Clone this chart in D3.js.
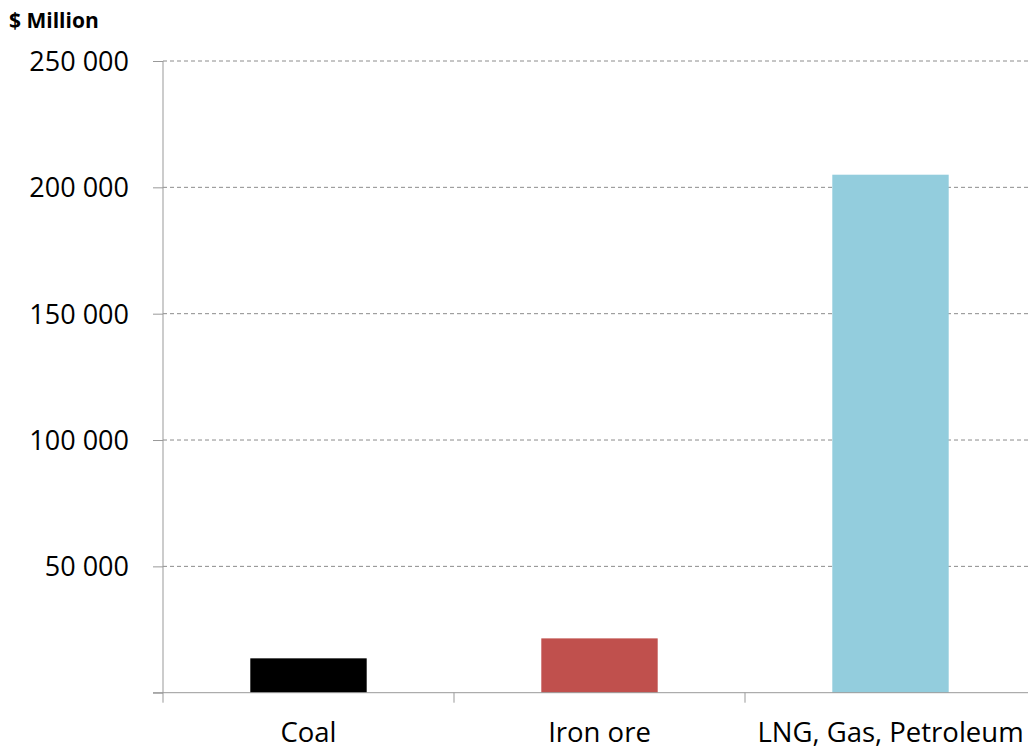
<!DOCTYPE html>
<html>
<head>
<meta charset="utf-8">
<script src="https://cdn.jsdelivr.net/npm/d3@7"></script>
<style>
  html, body { margin: 0; padding: 0; background: #fff; }
  svg { display: block; }
  text { font-family: "Open Sans", "Noto Sans", sans-serif; fill: #000; }
</style>
</head>
<body>
<svg id="chart" width="1028" height="749"></svg>
<script>
// Export values by commodity, $ million
const categories = ["Coal", "Iron ore", "LNG, Gas, Petroleum"];
const values = [13600, 21500, 205000];
const barColors = ["#000000", "#c0504d", "#93cddd"];
const yTicks = [0, 50000, 100000, 150000, 200000, 250000];
const unitLabel = "$ Million";

const svg = d3.select("#chart");
const margin = { left: 163, top: 61, right: -8, bottom: 56 };
const W = 1028, H = 749;
const x0 = margin.left, x1 = W - margin.right;
const yBase = 692.7, yTop = 61;

const x = d3.scaleBand().domain(categories).range([x0, x1]).paddingInner(0.6).paddingOuter(0.3);
const y = d3.scaleLinear().domain([0, 250000]).range([yBase, yTop]);

const fmt = v => d3.format(",")(v).replace(/,/g, " ");

// dashed horizontal gridlines
svg.append("g")
  .selectAll("line")
  .data(yTicks.filter(t => t > 0))
  .join("line")
  .attr("x1", x0).attr("x2", x1)
  .attr("y1", d => y(d)).attr("y2", d => y(d))
  .attr("stroke", "#8c8c8c")
  .attr("stroke-width", 1)
  .attr("stroke-dasharray", "4,3");

// bars
svg.append("g")
  .selectAll("rect")
  .data(categories)
  .join("rect")
  .attr("x", d => x(d))
  .attr("width", x.bandwidth())
  .attr("y", (d, i) => y(values[i]))
  .attr("height", (d, i) => y(0) - y(values[i]))
  .attr("fill", (d, i) => barColors[i]);

// y axis
const yAxis = d3.axisLeft(y).tickValues(yTicks).tickSize(10).tickPadding(24)
  .tickFormat(d => d === 0 ? "" : fmt(d));
const gy = svg.append("g").attr("transform", `translate(${x0},0)`).call(yAxis);
gy.select(".domain").remove();
gy.selectAll(".tick line").attr("stroke", "#999").attr("x2", -10);
gy.selectAll(".tick text").style("font-size", "27px").attr("dy", "0.35em");
svg.append("line")
  .attr("x1", x0).attr("x2", x0)
  .attr("y1", yTop).attr("y2", yBase + 10)
  .attr("stroke", "#999");

// x axis baseline with category separators
const step = x.step();
svg.append("line")
  .attr("x1", x0 - 10).attr("x2", x1)
  .attr("y1", yBase).attr("y2", yBase)
  .attr("stroke", "#999");
svg.append("g")
  .selectAll("line")
  .data(categories.slice(1))
  .join("line")
  .attr("x1", d => x(d) - step * 0.3)
  .attr("x2", d => x(d) - step * 0.3)
  .attr("y1", yBase).attr("y2", yBase + 10)
  .attr("stroke", "#999");

// category labels
svg.append("g")
  .selectAll("text")
  .data(categories)
  .join("text")
  .attr("x", d => x(d) + x.bandwidth() / 2)
  .attr("y", 742)
  .attr("text-anchor", "middle")
  .style("font-size", "27.5px")
  .text(d => d);

// unit label
svg.append("text")
  .attr("x", 9).attr("y", 28)
  .style("font-size", "21px")
  .style("font-weight", "bold")
  .text(unitLabel);
</script>
</body>
</html>
